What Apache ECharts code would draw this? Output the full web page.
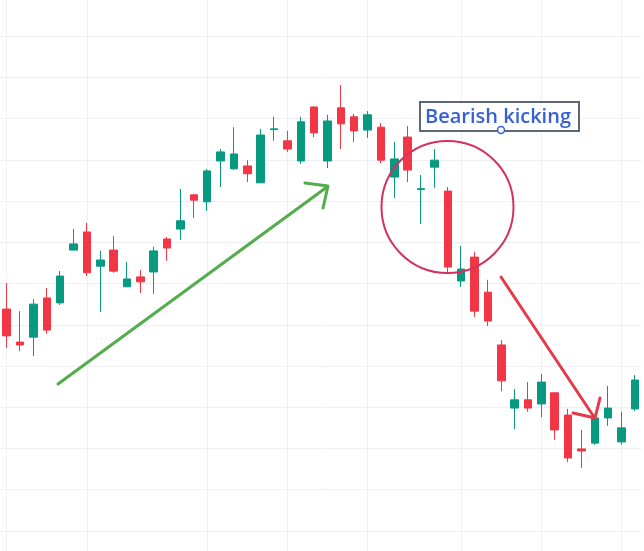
<!DOCTYPE html>
<html>
<head>
<meta charset="utf-8">
<script src="https://cdn.jsdelivr.net/npm/echarts@6/dist/echarts.min.js"></script>
<style>
  html, body { margin: 0; padding: 0; background: #ffffff; }
  #chart { width: 644px; height: 551px; }
</style>
</head>
<body>
<div id="chart"></div>
<script>
// Session labels (one per candle)
const days = Array.from({ length: 48 }, (_, i) => String(i + 1));

// OHLC values per session
const opens = [
  153.8, 145.8, 147.0, 156.5, 155.3, 168.1, 172.5, 164.2, 168.1, 159.2,
  161.6, 162.8, 170.8, 173.2, 181.5, 179.8, 189.7, 187.8, 188.5, 184.4,
  197.3, 194.6, 189.7, 202.8, 189.7, 202.6, 200.4, 197.2, 197.9, 185.8,
  195.5, 182.8, 188.2, 182.4, 160.6, 166.4, 157.9, 145.1, 129.8, 131.8,
  130.8, 133.5, 128.1, 119.9, 121.3, 127.4, 121.6, 129.6
];
const closes = [
  147.3, 145.1, 155.0, 148.7, 161.8, 169.6, 162.6, 165.7, 163.0, 161.1,
  160.4, 167.9, 168.6, 175.2, 180.2, 187.3, 191.9, 191.4, 186.6, 196.0,
  197.5, 192.6, 199.2, 196.5, 199.4, 198.7, 197.0, 200.9, 189.9, 190.2,
  187.5, 183.0, 189.9, 164.0, 163.5, 153.3, 150.9, 136.4, 131.8, 129.8,
  136.1, 124.5, 117.7, 119.4, 127.4, 129.8, 125.0, 136.6
];
const lows = [
  144.4, 143.6, 142.4, 147.8, 154.8, 168.1, 161.8, 153.1, 162.6, 159.2,
  157.7, 157.5, 165.5, 170.6, 175.9, 177.6, 183.4, 187.5, 184.6, 184.4,
  194.6, 191.9, 189.0, 195.5, 188.0, 192.6, 194.3, 195.3, 189.2, 180.7,
  184.6, 174.4, 183.2, 162.6, 159.2, 151.9, 149.7, 133.9, 124.7, 128.9,
  127.6, 122.1, 116.7, 115.3, 120.9, 125.5, 120.9, 129.1
];
const highs = [
  160.1, 153.3, 156.2, 158.9, 163.0, 173.2, 174.7, 167.9, 171.5, 165.2,
  163.3, 168.9, 171.3, 182.9, 181.6, 187.8, 192.6, 197.9, 189.9, 197.5,
  200.4, 197.0, 200.4, 202.9, 200.9, 208.1, 201.1, 201.8, 198.9, 194.3,
  198.2, 186.3, 192.6, 183.4, 169.1, 167.6, 160.9, 146.3, 134.4, 136.1,
  138.1, 133.6, 129.6, 124.5, 128.3, 135.2, 128.9, 137.8
];

// Price levels of the horizontal guides and sessions carrying a vertical guide
const priceLevels = [100, 110, 120, 130, 140, 150, 160, 170, 180, 190, 200, 210, 220];
const guideDays = ['1', '7', '16', '22', '28', '35', '41', '47'];

const candles = days.map((d, i) => [opens[i], closes[i], lows[i], highs[i]]);

const UP = '#089981';
const DOWN = '#F23645';
const GUIDE = '#eef0f3';

const chart = echarts.init(document.getElementById('chart'), null, { renderer: 'canvas' });

const guideLines = [
  ...priceLevels.map(v => ({ yAxis: v })),
  ...guideDays.map(d => ({ xAxis: d }))
];

chart.setOption({
  animation: false,
  backgroundColor: '#ffffff',
  grid: { left: -2.4, right: 2.4, top: 0, bottom: 0 },
  xAxis: {
    type: 'category',
    data: days,
    boundaryGap: true,
    show: false
  },
  yAxis: {
    type: 'value',
    min: 95.15,
    max: 228.73,
    show: false,
    splitLine: { show: false }
  },
  series: [{
    type: 'candlestick',
    data: candles,
    barWidth: 8,
    clip: false,
    itemStyle: {
      color: UP,
      color0: DOWN,
      borderColor: UP,
      borderColor0: DOWN,
      borderWidth: 1
    },
    markLine: {
      silent: true,
      symbol: ['none', 'none'],
      label: { show: false },
      lineStyle: { color: GUIDE, width: 1, type: 'solid' },
      emphasis: { disabled: true },
      z: 0,
      data: guideLines
    }
  }],
  graphic: [
    // rising trend arrow
    {
      type: 'polyline', z: 100,
      shape: { points: [[58, 384], [327, 187]] },
      style: { stroke: '#52ad4c', lineWidth: 3, lineCap: 'round', fill: null }
    },
    {
      type: 'polyline', z: 100,
      shape: { points: [[305, 183], [328, 186], [323, 208]] },
      style: { stroke: '#52ad4c', lineWidth: 3, lineCap: 'round', lineJoin: 'round', fill: null }
    },
    // highlight ring around the pattern
    {
      type: 'circle', z: 100,
      shape: { cx: 447.5, cy: 207, r: 66 },
      style: { stroke: '#d3325f', lineWidth: 2, fill: null }
    },
    // falling follow-through arrow
    {
      type: 'polyline', z: 100,
      shape: { points: [[501, 277], [594, 417]] },
      style: { stroke: '#e63a4b', lineWidth: 3, lineCap: 'round', fill: null }
    },
    {
      type: 'polyline', z: 100,
      shape: { points: [[573, 413], [595, 418], [600, 398]] },
      style: { stroke: '#e63a4b', lineWidth: 3, lineCap: 'round', lineJoin: 'round', fill: null }
    },
    // callout box
    {
      type: 'rect', z: 100,
      shape: { x: 420, y: 102, width: 159, height: 29 },
      style: { stroke: '#5c6778', lineWidth: 2, fill: '#ffffff' }
    },
    {
      type: 'text', z: 101,
      x: 498, y: 117,
      style: {
        text: 'Bearish kicking',
        fill: '#3560d8',
        font: '600 20px "Open Sans"',
        align: 'center',
        verticalAlign: 'middle'
      }
    },
    {
      type: 'circle', z: 102,
      shape: { cx: 501, cy: 130, r: 3.5 },
      style: { stroke: '#3560d8', lineWidth: 1.5, fill: '#ffffff' }
    }
  ]
});
</script>
</body>
</html>
